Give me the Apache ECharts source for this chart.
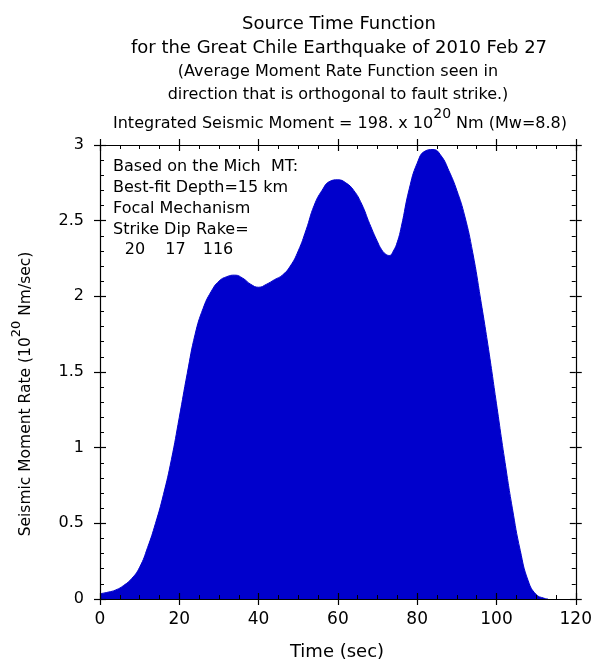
<!DOCTYPE html>
<html>
<head>
<meta charset="utf-8">
<script src="https://cdn.jsdelivr.net/npm/echarts@6/dist/echarts.min.js"></script>
<style>
html,body{margin:0;padding:0;background:#fff;}
#chart{width:595px;height:663px;}
</style>
</head>
<body>
<div id="chart"></div>
<script>
// ---- data ----
var times = [0, 2, 4, 6, 8, 10, 12, 14, 16, 18, 20, 22, 24, 26, 28, 30, 32, 34, 36, 38, 40, 42, 44, 46, 48, 50, 52, 54, 56, 58, 60, 62, 64, 66, 68, 70, 71, 72, 73, 74, 75, 76, 78, 80, 82, 84, 86, 88, 90, 92, 94, 96, 98, 100, 102, 104, 106, 108, 110, 112, 113];
var rates = [0.035, 0.045, 0.06, 0.09, 0.135, 0.21, 0.34, 0.50, 0.69, 0.92, 1.20, 1.49, 1.75, 1.92, 2.03, 2.10, 2.13, 2.14, 2.12, 2.08, 2.06, 2.08, 2.11, 2.14, 2.20, 2.30, 2.44, 2.60, 2.70, 2.76, 2.77, 2.75, 2.70, 2.61, 2.48, 2.36, 2.31, 2.28, 2.27, 2.30, 2.36, 2.46, 2.71, 2.88, 2.96, 2.97, 2.93, 2.83, 2.70, 2.53, 2.29, 1.98, 1.65, 1.29, 0.93, 0.60, 0.32, 0.12, 0.03, 0.005, 0];
var xTicks = [0, 20, 40, 60, 80, 100, 120];
var yTicks = [0, 0.5, 1, 1.5, 2, 2.5, 3];
var titleLines = ['Source Time Function', 'for the Great Chile Earthquake of 2010 Feb 27'];
var subtitleLines = ['(Average Moment Rate Function seen in', 'direction that is orthogonal to fault strike.)'];
var noteLines = ['Based on the Mich  MT:', 'Best-fit Depth=15 km', 'Focal Mechanism', 'Strike Dip Rake='];
var mechValues = ['20', '17', '116'];

var FONT = 'DejaVu Sans, sans-serif';
var fillColor = '#0000cc';

var chart = echarts.init(document.getElementById('chart'), null, {renderer: 'canvas'});

function makeX(pos, inside, main) {
  return {
    type: 'value', position: pos, min: 0, max: 120, interval: 20, z: 10,
    axisLine: {show: main, onZero: false, lineStyle: {color: '#000', width: 1.2}},
    axisTick: {show: true, inside: inside, length: 6, lineStyle: {color: '#000', width: 1.2}},
    minorTick: {show: inside, splitNumber: 4, length: 4, lineStyle: {color: '#000', width: 1}},
    axisLabel: {show: main && pos === 'bottom', margin: 12, color: '#000', fontSize: 17, fontFamily: FONT,
      formatter: function (v) { return xTicks.indexOf(v) >= 0 ? String(v) : ''; }},
    splitLine: {show: false}
  };
}
function makeY(pos, inside, main) {
  return {
    type: 'value', position: pos, min: 0, max: 3, interval: 0.5, z: 10,
    axisLine: {show: main, onZero: false, lineStyle: {color: '#000', width: 1.2}},
    axisTick: {show: true, inside: inside, length: 6, lineStyle: {color: '#000', width: 1.2}},
    minorTick: {show: inside, splitNumber: 5, length: 4, lineStyle: {color: '#000', width: 1}},
    axisLabel: {show: main && pos === 'left', margin: 16, color: '#000', fontSize: 16, fontFamily: FONT,
      formatter: function (v) { return yTicks.indexOf(v) >= 0 ? String(v) : ''; }},
    splitLine: {show: false}
  };
}

var seriesData = times.map(function (t, i) { return [t, rates[i]]; });

var graphics = [];
var titleY = [24, 48];
titleLines.forEach(function (s, i) {
  graphics.push({type: 'text', x: 339, y: titleY[i], z: 20,
    style: {text: s, font: '18px ' + FONT, fill: '#000', align: 'center', verticalAlign: 'middle'}});
});
var subY = [72, 95];
subtitleLines.forEach(function (s, i) {
  graphics.push({type: 'text', x: 338, y: subY[i], z: 20,
    style: {text: s, font: '16px ' + FONT, fill: '#000', align: 'center', verticalAlign: 'middle'}});
});
graphics.push({type: 'text', x: 340, y: 124, z: 20,
  style: {
    text: '{n|Integrated Seismic Moment = 198. x 10}{s|20}{n| Nm (Mw=8.8)}',
    align: 'center', verticalAlign: 'middle', fill: '#000',
    rich: {
      n: {fontSize: 16, fontFamily: FONT, lineHeight: 34, verticalAlign: 'middle', fill: '#000'},
      s: {fontSize: 14, fontFamily: FONT, verticalAlign: 'top', fill: '#000'}
    }
  }});
var noteY = [167, 188, 209, 230];
noteLines.forEach(function (s, i) {
  graphics.push({type: 'text', x: 113, y: noteY[i], z: 20,
    style: {text: s, font: '16px ' + FONT, fill: '#000', align: 'left', verticalAlign: 'middle'}});
});
var mechX = [135, 175.5, 218];
mechValues.forEach(function (s, i) {
  graphics.push({type: 'text', x: mechX[i], y: 250, z: 20,
    style: {text: s, font: '16px ' + FONT, fill: '#000', align: 'center', verticalAlign: 'middle'}});
});
graphics.push({type: 'text', x: 337, y: 652, z: 20,
  style: {text: 'Time (sec)', font: '18px ' + FONT, fill: '#000', align: 'center', verticalAlign: 'middle'}});
graphics.push({type: 'text', x: 26, y: 394, rotation: Math.PI / 2, z: 20,
  style: {
    text: '{n|Seismic Moment Rate (10}{s|20}{n| Nm/sec)}',
    align: 'center', verticalAlign: 'middle', fill: '#000',
    rich: {
      n: {fontSize: 15.5, fontFamily: FONT, lineHeight: 32, verticalAlign: 'middle', fill: '#000'},
      s: {fontSize: 13, fontFamily: FONT, verticalAlign: 'top', fill: '#000'}
    }
  }});

chart.setOption({
  animation: false,
  backgroundColor: '#fff',
  grid: {left: 100, right: 19, top: 145, bottom: 64, containLabel: false},
  xAxis: [makeX('bottom', true, true), makeX('bottom', false, false), makeX('top', true, true), makeX('top', false, false)],
  yAxis: [makeY('left', true, true), makeY('left', false, false), makeY('right', true, true), makeY('right', false, false)],
  series: [{
    type: 'line', xAxisIndex: 0, yAxisIndex: 0, data: seriesData,
    smooth: 0.5, showSymbol: false, z: 2,
    lineStyle: {color: fillColor, width: 1},
    areaStyle: {color: fillColor, opacity: 1}
  }],
  graphic: graphics
});
</script>
</body>
</html>
